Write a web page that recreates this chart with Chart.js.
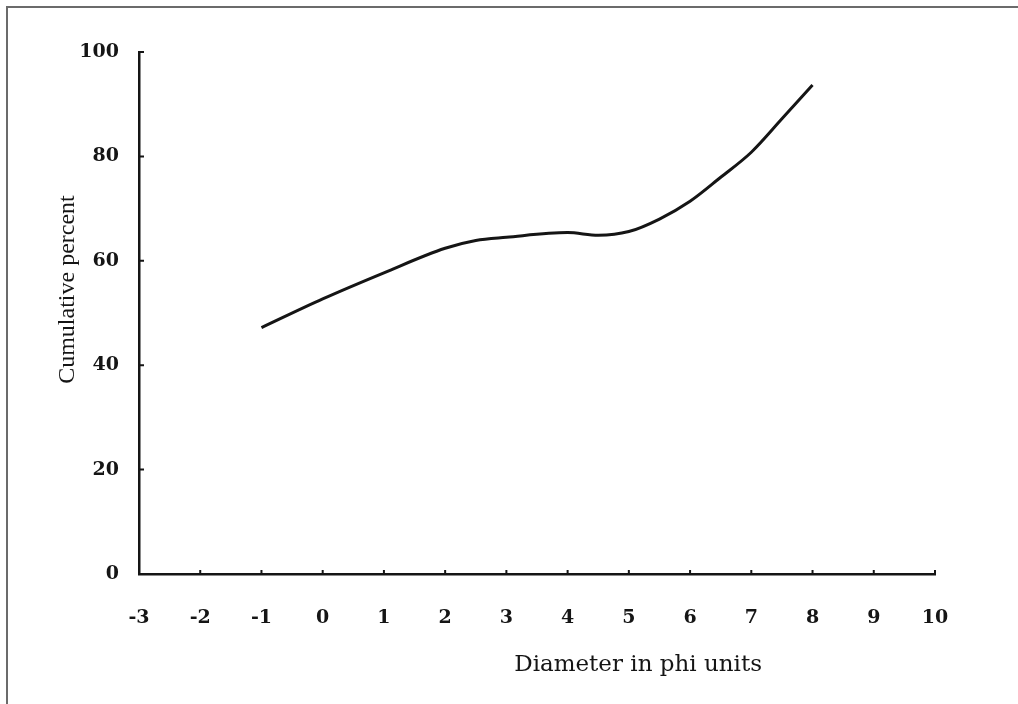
<!DOCTYPE html>
<html>
<head>
<meta charset="utf-8">
<script src="https://cdn.jsdelivr.net/npm/chart.js@4/dist/chart.umd.min.js"></script>
<style>
  body { margin: 0; background: #fff; }
  #wrap { position: relative; width: 1018px; height: 704px; overflow: hidden; }
  #frame { position: absolute; left: 6px; top: 6px; right: -10px; bottom: -10px;
           border-left: 2px solid #6b6b6b; border-top: 2px solid #6b6b6b; }
  canvas { position: absolute; left: 0; top: 0; }
</style>
</head>
<body>
<div id="wrap">
  <div id="frame"></div>
  <canvas id="phiChart" width="1018" height="704"></canvas>
</div>
<script>
// values
const phi = [-1, 0, 1, 2, 2.5, 3, 4, 4.5, 5, 5.5, 6, 6.5, 7, 7.5, 8];
const cumPercent = [47.2, 52.7, 57.7, 62.4, 63.9, 64.5, 65.4, 64.9, 65.6, 68, 71.4, 76, 80.8, 87.2, 93.7];

const xTicks = [-3, -2, -1, 0, 1, 2, 3, 4, 5, 6, 7, 8, 9, 10];
const yTicks = [0, 20, 40, 60, 80, 100];

const xTitle = "Diameter in phi units";
const yTitle = "Cumulative percent";

const ink = "#151515";
const tickFont = {family: "'DejaVu Serif', serif", size: 19, weight: "bold"};

// small inward tick marks + axis titles
const decor = {
    id: "decor",
    afterDraw(chart) {
        const ctx = chart.ctx;
        const area = chart.chartArea;
        const x = chart.scales.x;
        const y = chart.scales.y;
        ctx.save();
        ctx.strokeStyle = ink;
        ctx.lineWidth = 2;
        ctx.beginPath();
        xTicks.forEach(v => {
            const px = x.getPixelForValue(v);
            ctx.moveTo(px, area.bottom);
            ctx.lineTo(px, area.bottom - 4);
        });
        yTicks.forEach(v => {
            const py = y.getPixelForValue(v);
            ctx.moveTo(area.left, py);
            ctx.lineTo(area.left + 5, py);
        });
        ctx.stroke();

        ctx.fillStyle = ink;
        ctx.textAlign = "center";
        ctx.textBaseline = "middle";
        ctx.font = "23px 'DejaVu Serif', serif";
        ctx.fillText(xTitle, area.left + (area.right - area.left) * 0.627, area.bottom + 91);

        ctx.translate(area.left - 71, y.getPixelForValue(54.5));
        ctx.rotate(-Math.PI / 2);
        ctx.font = "24px 'Liberation Serif', serif";
        ctx.fillText(yTitle, 0, 0);
        ctx.restore();
    }
};

new Chart("phiChart", {
    type: "line",
    data: {
        datasets: [{
            data: phi.map((v, i) => ({x: v, y: cumPercent[i]})),
            borderColor: ink,
            borderWidth: 3,
            pointRadius: 0,
            fill: false,
            cubicInterpolationMode: "monotone"
        }]
    },
    options: {
        responsive: false,
        animation: false,
        layout: {padding: {left: 0, top: 52, right: 83, bottom: 0}},
        plugins: {
            legend: {display: false},
            tooltip: {enabled: false}
        },
        scales: {
            x: {
                type: "linear",
                min: -3,
                max: 10,
                afterFit: s => { s.height = 130; },
                grid: {display: false, drawTicks: false},
                border: {display: true, color: ink, width: 2.5},
                ticks: {stepSize: 1, padding: 33, color: ink, font: tickFont, maxRotation: 0}
            },
            y: {
                min: 0,
                max: 100,
                afterFit: s => { s.width = 139; },
                grid: {display: false, drawTicks: false},
                border: {display: true, color: ink, width: 2.5},
                ticks: {stepSize: 20, padding: 20, color: ink, font: tickFont}
            }
        }
    },
    plugins: [decor]
});
</script>
</body>
</html>
